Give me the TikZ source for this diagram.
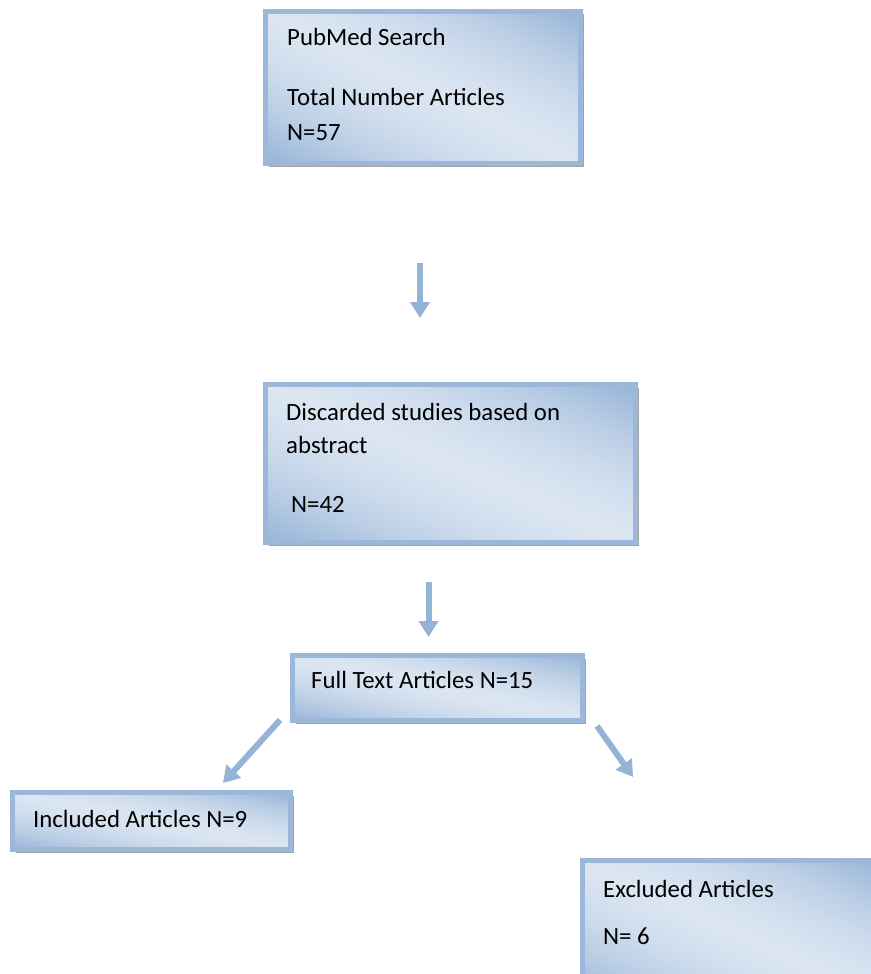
\documentclass[tikz,border=0pt]{standalone}
\usepackage{fontspec}
\setmainfont{Carlito}
\usetikzlibrary{arrows.meta,shadows}
\definecolor{bdark}{HTML}{95B3D7}
\definecolor{blight}{HTML}{DCE6F2}
\definecolor{bborder}{HTML}{9BB8DB}
\definecolor{bshadow}{HTML}{A3A3A3}
\pgfdeclarefunctionalshading{boxgrad}{\pgfpointorigin}{\pgfpoint{100bp}{100bp}}{}{%
  add 100 sub abs 50 div dup 1 gt {pop 1} if dup dup mul 0.65 mul exch 0.35 mul add
  dup -0.279 mul 0.863 add exch dup -0.200 mul 0.902 add exch -0.106 mul 0.949 add}
\tikzset{
  flowbox/.style={rectangle, draw=bborder, line width=5pt, outer sep=0pt, inner sep=0pt,
    shading=boxgrad, anchor=north west,
    drop shadow={shadow xshift=3pt, shadow yshift=-3pt, fill=bshadow, opacity=1}},
  boxtext/.style={anchor=base west, inner sep=0pt, text=black,
    font=\fontsize{24.8pt}{29pt}\selectfont},
  flowarrow/.style={draw=bdark, line width=6pt,
    -{Triangle[width=19pt,length=16pt,fill=bdark]}}
}
\begin{document}
\begin{tikzpicture}[x=1pt,y=-1pt]
\useasboundingbox[fill=white] (0,0) rectangle (870,974);
% boxes
\node[flowbox, minimum width=315pt, minimum height=152pt] (pub) at (265.5,11.5) {};
\node[flowbox, minimum width=370pt, minimum height=158pt] (disc) at (265.5,384.5) {};
\node[flowbox, minimum width=290pt, minimum height=65pt] (full) at (292.5,655.5) {};
\node[flowbox, minimum width=278pt, minimum height=57pt] (incl) at (12.5,792.5) {};
\node[flowbox, minimum width=300pt, minimum height=140pt] (excl) at (582.5,860.5) {};
% texts
\node[boxtext] (t1) at (287,46) {PubMed Search};
\node[boxtext] (t2) at (287,105) {Total Number Articles};
\node[boxtext] (t3) at (287,140) {N=57};
\node[boxtext] (t4) at (286,420) {Discarded studies based on};
\node[boxtext] (t5) at (286,453) {abstract};
\node[boxtext] (t6) at (291,512) {N=42};
\node[boxtext] (t7) at (311,688) {Full Text Articles N=15};
\node[boxtext] (t8) at (33,827) {Included Articles N=9};
\node[boxtext] (t9) at (603,897) {Excluded Articles};
\node[boxtext] (t10) at (603,944) {N= 6};
% arrows
\coordinate (a1s) at (420,263);
\coordinate (a1e) at (420,318);
\coordinate (a2s) at (428.5,582);
\coordinate (a2e) at (428.5,637);
\coordinate (a3s) at (280,720);
\coordinate (a3e) at (223,783);
\coordinate (a4s) at (597,726);
\coordinate (a4e) at (633,777);
\draw[flowarrow] (a1s) -- (a1e);
\draw[flowarrow] (a2s) -- (a2e);
\draw[flowarrow] (a3s) -- (a3e);
\draw[flowarrow] (a4s) -- (a4e);
\end{tikzpicture}
\end{document}
